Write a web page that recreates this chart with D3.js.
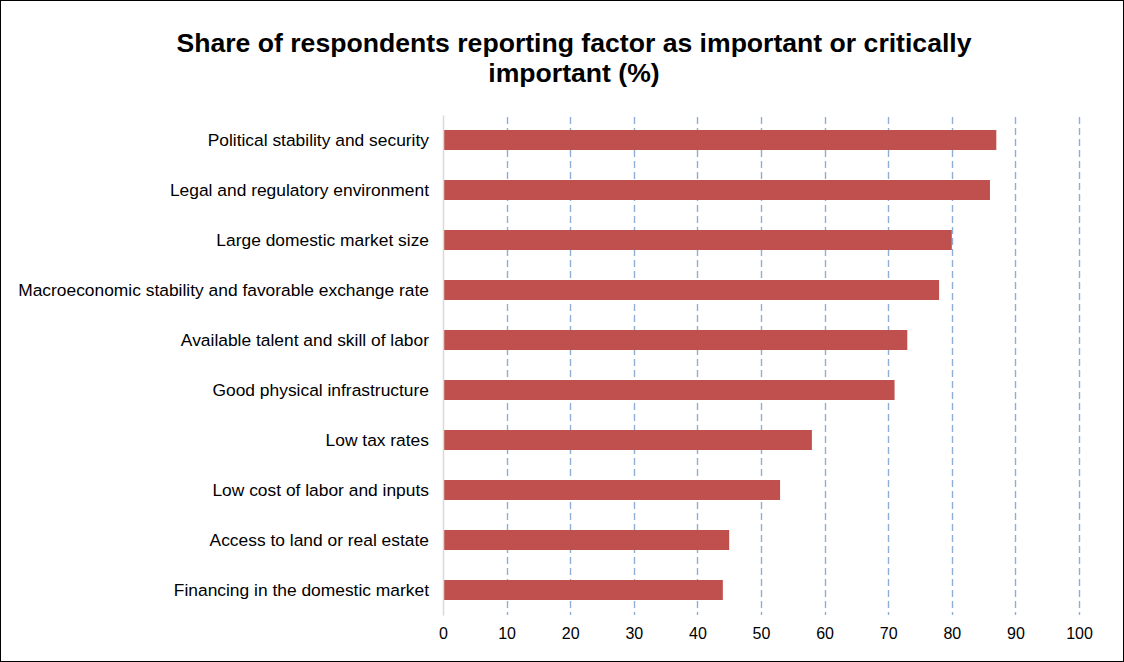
<!DOCTYPE html>
<html lang='en'>
  <head>
    <style type='text/css'>
      body { margin: 0; background-color: #fff; }
      svg { display: block; font-family: Arial, "Liberation Sans", sans-serif; }
    </style>
  </head>
  <body>
    <svg id='chart' width='1124' height='662'></svg>
    <script src='https://d3js.org/d3.v7.min.js'></script>
    <script type='text/javascript'>
        // data, top to bottom
        var factors = [
          "Political stability and security",
          "Legal and regulatory environment",
          "Large domestic market size",
          "Macroeconomic stability and favorable exchange rate",
          "Available talent and skill of labor",
          "Good physical infrastructure",
          "Low tax rates",
          "Low cost of labor and inputs",
          "Access to land or real estate",
          "Financing in the domestic market"
        ];
        var shares = [87, 86, 80, 78, 73, 71, 58, 53, 45, 44];
        var ticks = [0, 10, 20, 30, 40, 50, 60, 70, 80, 90, 100];
        var titleLines = ["Share of respondents reporting factor as important or critically", "important (%)"];

        var data = factors.map(function(f, i) { return {factor: f, value: shares[i]}; });

        var svg = d3.select("#chart");
        var W = 1124, H = 662;
        var margin = {top: 115, right: 45, bottom: 47, left: 443};
        var width = W - margin.left - margin.right;
        var height = H - margin.top - margin.bottom;

        // outer frame
        svg.append("rect")
            .attr("x", 0.5).attr("y", 0.5)
            .attr("width", W - 1).attr("height", H - 1)
            .attr("fill", "#fff").attr("stroke", "#000").attr("stroke-width", 1);

        // title
        svg.append("text")
            .attr("x", 574).attr("y", 52)
            .attr("text-anchor", "middle")
            .style("font-size", "26.6px").style("font-weight", "bold")
            .selectAll("tspan").data(titleLines).enter().append("tspan")
            .attr("x", 574)
            .attr("dy", function(d, i) { return i ? 30 : 0; })
            .text(function(d) { return d; });

        var g = svg.append("g")
            .attr("transform", "translate(" + margin.left + "," + margin.top + ")");

        var x = d3.scaleLinear().domain([0, 100]).range([0, width]);
        var y = d3.scaleBand().domain(factors).range([0, height]).paddingInner(0.6).paddingOuter(0.3);

        // dashed gridlines
        g.selectAll(".grid").data(ticks.slice(1)).enter().append("line")
            .attr("x1", function(d) { return Math.round(x(d)) + 0.5; })
            .attr("x2", function(d) { return Math.round(x(d)) + 0.5; })
            .attr("y1", 2).attr("y2", height)
            .attr("stroke", "#8eaed6").attr("stroke-width", 1.4)
            .attr("stroke-dasharray", "7,4");

        // bars
        g.selectAll(".bar").data(data).enter().append("rect")
            .attr("class", "bar")
            .attr("x", 0)
            .attr("y", function(d) { return y(d.factor); })
            .attr("width", function(d) { return x(d.value); })
            .attr("height", y.bandwidth())
            .attr("fill", "#c0504d");

        // category axis
        var yAxis = g.append("g")
            .call(d3.axisLeft(y).tickSize(0).tickPadding(14));
        yAxis.select(".domain").attr("stroke", "#d9d9d9").attr("stroke-width", 1.5);
        yAxis.selectAll("text").style("font-size", "17.4px").attr("fill", "#000");

        // value axis
        var xAxis = g.append("g")
            .attr("transform", "translate(0," + height + ")")
            .call(d3.axisBottom(x).tickValues(ticks).tickSize(0).tickPadding(13));
        xAxis.select(".domain").remove();
        xAxis.selectAll("text").style("font-size", "16px").attr("fill", "#000");
    </script>
  </body>
</html>
